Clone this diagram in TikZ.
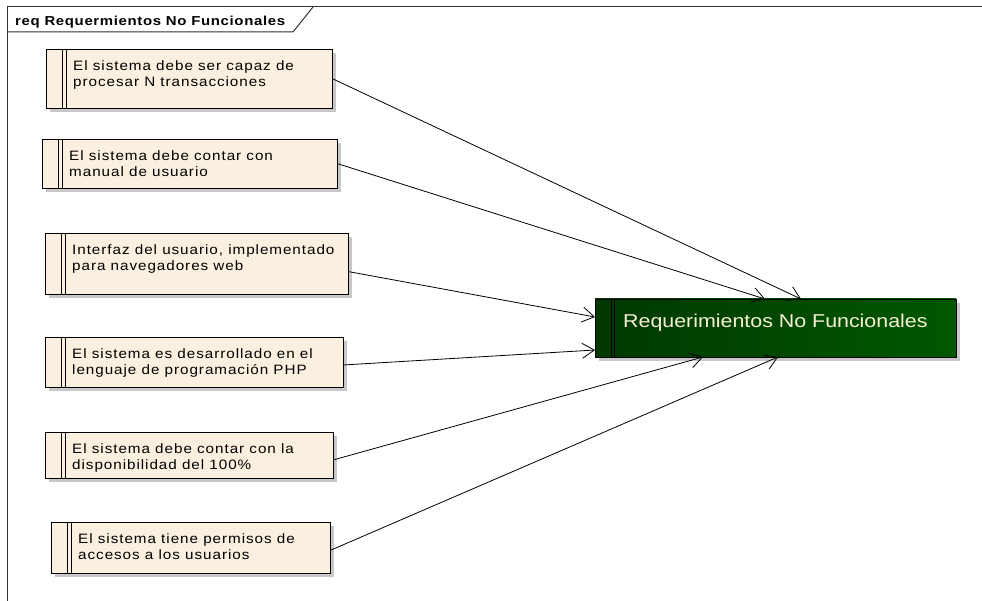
\documentclass[tikz,border=0pt]{standalone}
\usepackage{fontspec}
\setmainfont{Liberation Sans}
\newfontfamily\boxfont[FakeStretch=1.12,LetterSpace=7]{Liberation Sans}
\newfontfamily\titlefont[FakeStretch=1.15,LetterSpace=5]{Liberation Sans}
\newfontfamily\greenfont[FakeStretch=1.15]{Liberation Sans}
\usetikzlibrary{arrows.meta}
\definecolor{cream}{RGB}{251,240,224}
\definecolor{shadowgrey}{RGB}{200,200,200}
\definecolor{gdark}{RGB}{0,56,0}
\definecolor{glight}{RGB}{0,88,0}
\definecolor{gtext}{RGB}{245,240,210}
\definecolor{framec}{RGB}{50,50,50}
\tikzset{
  reqbox/.style={draw=black, line width=0.9pt, fill=cream, rectangle, anchor=north west, inner sep=0pt, outer sep=0pt},
  reqtext/.style={anchor=north west, inner sep=0pt, align=left, font=\boxfont\fontsize{13.6}{16.5}\selectfont},
  dbl/.style={line width=0.8pt, black},
  conn/.style={line width=0.8pt, black, -{Straight Barb[length=12pt,width=15pt,line width=0.8pt]}},
  framel/.style={line width=1pt, framec}
}
\newcommand\myreq[6]{%
  \fill[shadowgrey] (#2+4,#3+4) rectangle (#2+#4+4,#3+#5+4);
  \node[reqbox, minimum width=#4pt, minimum height=#5pt] (#1) at (#2,#3) {};
  \draw[dbl] ([xshift=16pt]#1.north west) -- ([xshift=16pt]#1.south west);
  \draw[dbl] ([xshift=20pt]#1.north west) -- ([xshift=20pt]#1.south west);
  \node[reqtext] (#1t) at ([xshift=27pt,yshift=-11pt]#1.north west) {#6};
}
\begin{document}
\begin{tikzpicture}[x=1pt,y=-1pt]
\useasboundingbox[fill=white] (0,0) rectangle (982,601);
% frame
\coordinate (fbl) at (7,601);
\coordinate (ftl) at (7,7);
\coordinate (ftr) at (982,7);
\coordinate (tabl) at (7,32);
\coordinate (tabr) at (293,32);
\coordinate (tabt) at (313,7);
\draw[framel] (fbl) -- (ftl) -- (ftr);
\draw[framel] (tabl) -- (tabr) -- (tabt);
\node[anchor=base west, inner sep=0pt, font=\titlefont\bfseries\fontsize{13}{14}\selectfont] (title) at (15,26) {req Requermientos No Funcionales};
% requirement boxes
\myreq{b1}{46}{49}{286}{59}{El sistema debe ser capaz de\\procesar N transacciones}
\myreq{b2}{42}{139}{295}{49}{El sistema debe contar con\\manual de usuario}
\myreq{b3}{45}{233}{303}{61}{Interfaz del usuario, implementado\\para navegadores web}
\myreq{b4}{45}{337}{298}{50}{El sistema es desarrollado en el\\lenguaje de programación PHP}
\myreq{b5}{45}{432}{288}{46}{El sistema debe contar con la\\disponibilidad del 100\%}
\myreq{b6}{51}{522}{279}{51}{El sistema tiene permisos de\\accesos a los usuarios}
% green box
\fill[shadowgrey] (599,303) rectangle (960,361);
\node[anchor=north west, inner sep=0pt, outer sep=0pt, minimum width=361pt, minimum height=58pt, left color=gdark, right color=glight, draw=black, line width=0.9pt] (g) at (595,299) {};
\draw[dbl] ([xshift=16pt]g.north west) -- ([xshift=16pt]g.south west);
\draw[dbl] ([xshift=19pt]g.north west) -- ([xshift=19pt]g.south west);
\node[anchor=base west, inner sep=0pt, text=gtext, font=\greenfont\fontsize{18.6}{20}\selectfont] (gt) at ([xshift=28pt,yshift=-28pt]g.north west) {Requerimientos No Funcionales};
% connectors
\draw[conn] (b1.east) -- ([xshift=206pt]g.north west);
\draw[conn] (b2.east) -- ([xshift=170pt]g.north west);
\draw[conn] ([yshift=-8pt]b3.east) -- ([yshift=-18pt]g.north west);
\draw[conn] ([yshift=-3pt]b4.east) -- ([yshift=-51pt]g.north west);
\draw[conn] ([yshift=-5pt]b5.east) -- ([xshift=108pt]g.south west);
\draw[conn] ([yshift=-3pt]b6.east) -- ([xshift=183pt]g.south west);
\end{tikzpicture}
\end{document}
